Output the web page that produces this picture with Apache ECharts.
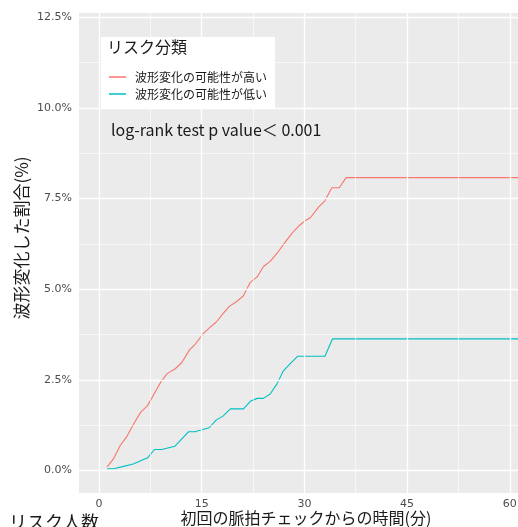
<!DOCTYPE html>
<html>
<head>
<meta charset="utf-8">
<script src="https://cdn.jsdelivr.net/npm/echarts@6/dist/echarts.min.js"></script>
<style>
html,body{margin:0;padding:0;background:#fff;}
#chart{width:518px;height:527px;}
</style>
</head>
<body>
<div id="chart"></div>
<script>
var groupNames = ['波形変化の可能性が高い', '波形変化の可能性が低い'];

// cumulative incidence (%)
var timeHigh = [1.2, 2.1, 3.1, 4.0, 5.2, 6.1, 7.1, 8.1, 9.15, 10.0, 11.1, 12.1, 13.2, 14.0, 15.2, 16.2, 17.1, 18.0, 19.0, 20.1, 21.1, 22.1, 23.1, 24.0, 25.0, 26.2, 27.2, 28.2, 29.1, 30.1, 30.9, 32.1, 33.0, 34.0, 35.1, 36.1, 62];
var pctHigh  = [0.10, 0.32, 0.69, 0.92, 1.33, 1.61, 1.79, 2.13, 2.48, 2.68, 2.80, 2.98, 3.32, 3.47, 3.77, 3.95, 4.09, 4.30, 4.52, 4.66, 4.82, 5.19, 5.34, 5.62, 5.77, 6.04, 6.30, 6.55, 6.73, 6.89, 6.98, 7.27, 7.44, 7.80, 7.80, 8.08, 8.08];

var timeLow = [1.2, 2.1, 3.3, 5.0, 6.0, 7.1, 8.1, 9.15, 11.1, 13.1, 14.0, 16.1, 17.1, 18.1, 19.2, 21.1, 22.1, 23.1, 24.0, 25.0, 26.0, 26.9, 27.9, 29.0, 33.0, 34.1, 62];
var pctLow  = [0.05, 0.05, 0.10, 0.18, 0.26, 0.35, 0.58, 0.58, 0.67, 1.07, 1.07, 1.18, 1.39, 1.50, 1.70, 1.70, 1.91, 1.99, 1.99, 2.11, 2.39, 2.74, 2.94, 3.15, 3.15, 3.63, 3.63];

var xTicks = [0, 15, 30, 45, 60];
var xMinor = [7.5, 22.5, 37.5, 52.5];
var yTicks = [0, 2.5, 5, 7.5, 10, 12.5];
var yMinor = [1.25, 3.75, 6.25, 8.75, 11.25];

function pairs(xs, ys){
    var out = [];
    for (var i = 0; i < xs.length; i++) out.push([xs[i], ys[i]]);
    return out;
}

var gridLines = [];
xMinor.forEach(function(v){ gridLines.push({xAxis: v, lineStyle: {width: 0.6}}); });
yMinor.forEach(function(v){ gridLines.push({yAxis: v, lineStyle: {width: 0.6}}); });
xTicks.forEach(function(v){ gridLines.push({xAxis: v, lineStyle: {width: 1.3}}); });
yTicks.forEach(function(v){ gridLines.push({yAxis: v, lineStyle: {width: 1.3}}); });

var jp = '"Noto Sans CJK JP", sans-serif';
var tickFont = {color: '#4D4D4D', fontSize: 11, fontFamily: 'DejaVu Sans, sans-serif'};

var chart = echarts.init(document.getElementById('chart'));
var option = {
    animation: false,
    grid: {
        left: 79,
        top: 13,
        width: 452,
        height: 480,
        outerBoundsMode: 'none',
        containLabel: false,
        show: true,
        backgroundColor: '#EBEBEB',
        borderWidth: 0
    },
    xAxis: {
        type: 'value',
        min: -2.92,
        max: 63.1,
        axisLine: {show: false},
        axisTick: {show: true, customValues: xTicks, length: 4, lineStyle: {color: '#333'}},
        axisLabel: Object.assign({customValues: xTicks, margin: 6}, tickFont),
        splitLine: {show: false}
    },
    yAxis: {
        type: 'value',
        min: -0.62,
        max: 12.62,
        axisLine: {show: false},
        axisTick: {show: true, customValues: yTicks, length: 4, lineStyle: {color: '#333'}},
        axisLabel: Object.assign({
            customValues: yTicks,
            margin: 7,
            formatter: function(v){ return v.toFixed(1) + '%'; }
        }, tickFont),
        splitLine: {show: false}
    },
    legend: {
        left: 104,
        top: 66,
        z: 10,
        orient: 'vertical',
        itemWidth: 17,
        itemHeight: 1.5,
        itemGap: 5,
        textStyle: {color: '#1a1a1a', fontSize: 12, fontFamily: jp, padding: [0, 0, 0, 4]},
        data: [
            {name: groupNames[0], icon: 'rect'},
            {name: groupNames[1], icon: 'rect'}
        ]
    },
    graphic: [
        {type: 'rect', left: 101, top: 37, z: 3, shape: {width: 174, height: 71}, style: {fill: '#fff'}},
        {type: 'text', left: 107, top: 39, z: 6, style: {text: 'リスク分類', fontSize: 16, fontFamily: jp, fill: '#1a1a1a'}},
        {type: 'text', left: 111, top: 122, z: 6, style: {text: 'log-rank test p value＜ 0.001', fontSize: 16, fontFamily: jp, fill: '#1a1a1a'}},
        {type: 'text', x: 22, y: 238, rotation: Math.PI / 2, z: 6,
            style: {text: '波形変化した割合(%)', fontSize: 17, fontFamily: jp, fill: '#1a1a1a', align: 'center', verticalAlign: 'middle'}},
        {type: 'text', x: 306, y: 518, z: 6,
            style: {text: '初回の脈拍チェックからの時間(分)', fontSize: 16, fontFamily: jp, fill: '#1a1a1a', align: 'center', verticalAlign: 'middle'}},
        {type: 'text', left: 9, top: 513, z: 6, style: {text: 'リスク人数', fontSize: 18, fontFamily: jp, fill: '#1a1a1a'}}
    ],
    series: [
        {
            type: 'line',
            data: [],
            silent: true,
            markLine: {
                silent: true,
                symbol: 'none',
                label: {show: false},
                lineStyle: {color: '#fff', type: 'solid'},
                data: gridLines
            }
        },
        {
            name: groupNames[0],
            type: 'line',
            showSymbol: false,
            color: '#F8766D',
            lineStyle: {width: 1.1},
            data: pairs(timeHigh, pctHigh)
        },
        {
            name: groupNames[1],
            type: 'line',
            showSymbol: false,
            color: '#00BFC4',
            lineStyle: {width: 1.1},
            data: pairs(timeLow, pctLow)
        }
    ]
};
chart.setOption(option);
</script>
</body>
</html>
